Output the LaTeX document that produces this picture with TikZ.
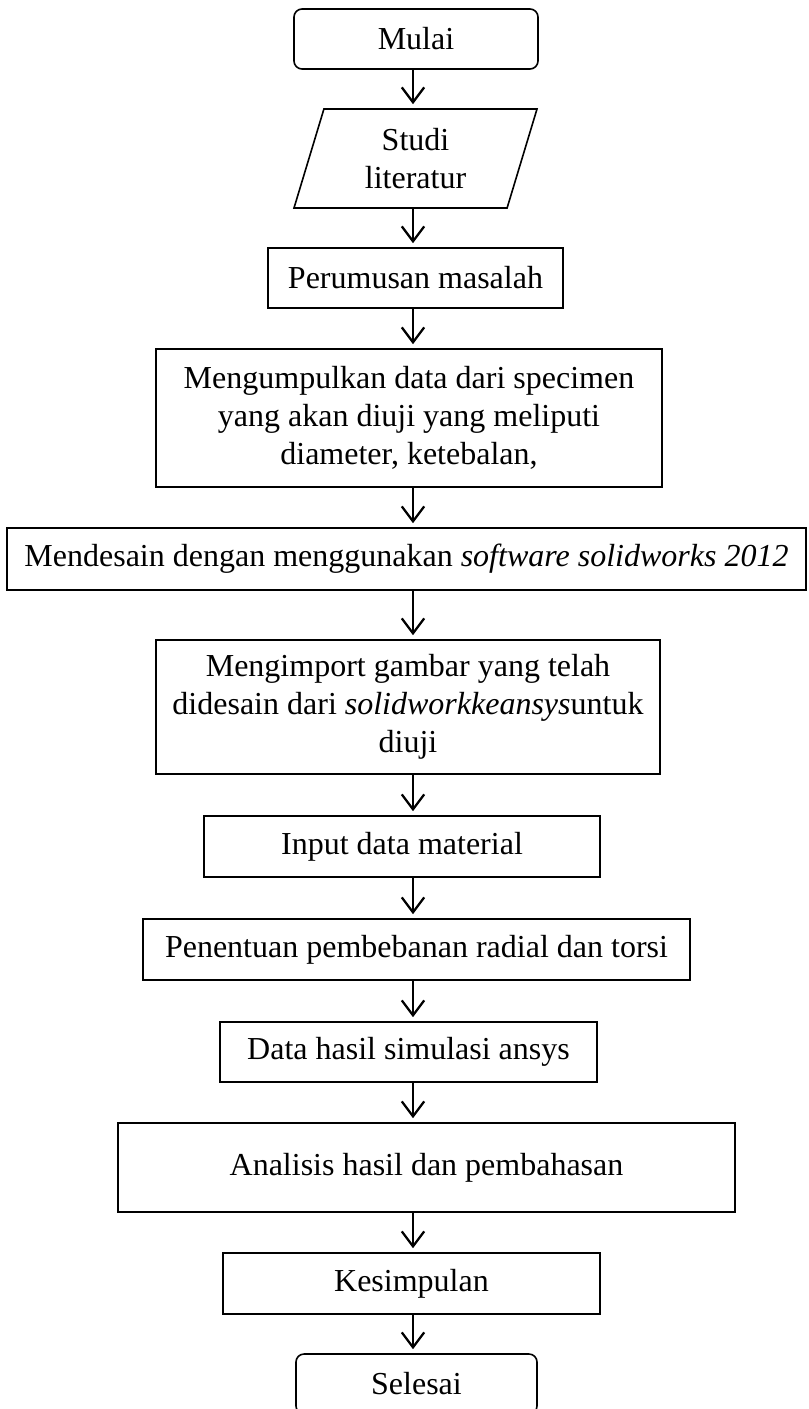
\documentclass[tikz,border=0pt]{standalone}
\usepackage{fontspec}
\setmainfont{Liberation Serif}
\usetikzlibrary{shapes.geometric,arrows.meta}

\newcommand{\pxu}{0.375pt}

\begin{document}
\begin{tikzpicture}[x=0.375pt,y=-0.375pt,
    font=\fontsize{12}{14.25}\selectfont,
    boxsize/.style 2 args={minimum width={#1*\pxu},minimum height={#2*\pxu}},
    box/.style={draw,line width=0.6pt,align=center,inner sep=0pt},
    terminal/.style={box,rounded corners=3pt},
    datain/.style={box,trapezium,trapezium left angle=63.7,trapezium right angle=116.3,trapezium stretches body},
    flow/.style={line width=0.85pt,-{Straight Barb[length=5.6pt,width=8.4pt]},shorten >=1.5pt}]
    \useasboundingbox (0,0) rectangle (808,1409);

    % Start
    \node[terminal,boxsize={244}{60}] (mulai) at (416,39) {Mulai};

    % Literature
    \node[datain,boxsize={243}{99}] (studi) at (415.5,158.5) {Studi\\literatur};

    % Process steps
    \node[box,boxsize={295}{60}] (rumus) at (415.5,278) {Perumusan masalah};
    \node[box,boxsize={506}{138}] (kumpul) at (409,418)
        {Mengumpulkan data dari specimen\\yang akan diuji yang meliputi\\diameter, ketebalan,};
    \node[box,boxsize={799}{62}] (desain) at (406.5,559)
        {Mendesain dengan menggunakan \textit{software solidworks 2012}};
    \node[box,boxsize={504}{134}] (impor) at (408,707)
        {Mengimport gambar yang telah\\didesain dari \textit{solidworkkeansys}untuk\\diuji};
    \node[box,boxsize={396}{61}] (input) at (402,846.5) {Input data material};
    \node[box,boxsize={547}{61}] (beban) at (416.5,949.5) {Penentuan pembebanan radial dan torsi};
    \node[box,boxsize={377}{60}] (hasil) at (408.5,1052) {Data hasil simulasi ansys};
    \node[box,boxsize={617}{89}] (analisis) at (426.5,1167.5) {Analisis hasil dan pembahasan};
    \node[box,boxsize={377}{61}] (simpul) at (411.5,1283.5) {Kesimpulan};

    % End
    \node[terminal,boxsize={241}{60}] (selesai) at (416.5,1384) {Selesai};

    % Flow arrows
    \coordinate (axis) at (413,0);
    \draw[flow] (mulai.south -| axis) -- (studi.north -| axis);
    \draw[flow] (studi.south -| axis) -- (rumus.north -| axis);
    \draw[flow] (rumus.south -| axis) -- (kumpul.north -| axis);
    \draw[flow] (kumpul.south -| axis) -- (desain.north -| axis);
    \draw[flow] (desain.south -| axis) -- (impor.north -| axis);
    \draw[flow] (impor.south -| axis) -- (input.north -| axis);
    \draw[flow] (input.south -| axis) -- (beban.north -| axis);
    \draw[flow] (beban.south -| axis) -- (hasil.north -| axis);
    \draw[flow] (hasil.south -| axis) -- (analisis.north -| axis);
    \draw[flow] (analisis.south -| axis) -- (simpul.north -| axis);
    \draw[flow] (simpul.south -| axis) -- (selesai.north -| axis);

\end{tikzpicture}
\end{document}
